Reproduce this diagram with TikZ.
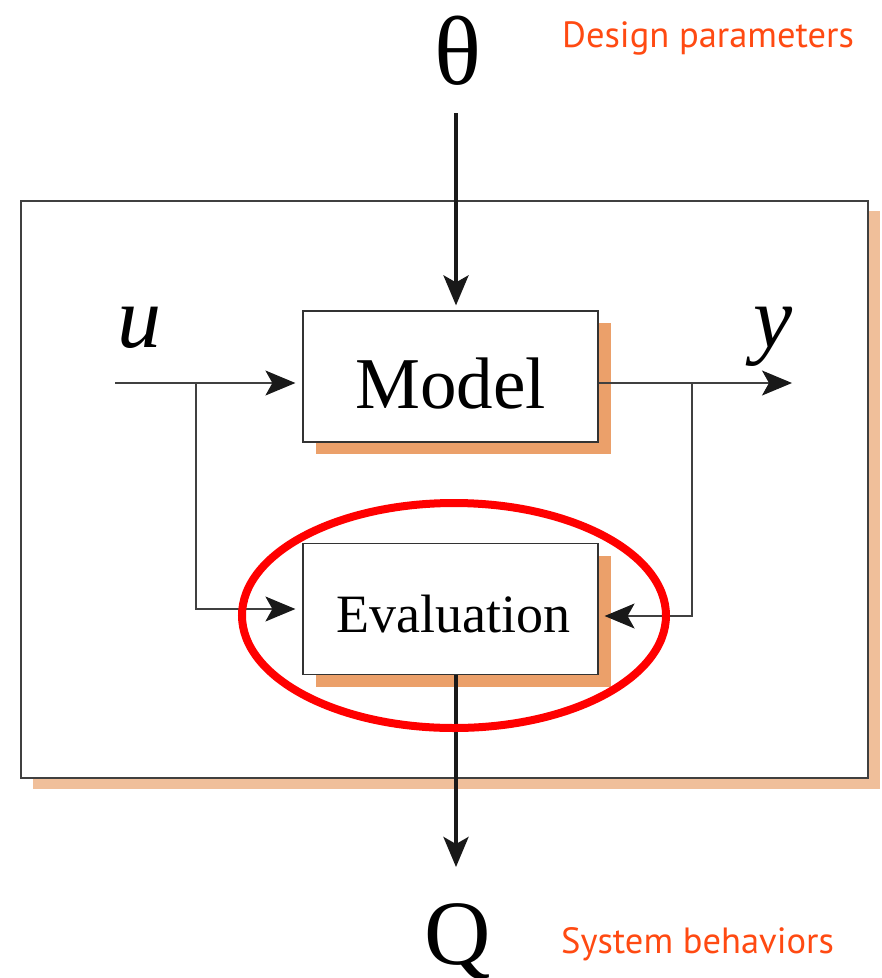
\documentclass[tikz,border=0pt]{standalone}
\usepackage{fontspec}
\setmainfont{Liberation Serif}
\newfontfamily\notefont{PT Sans}
\usetikzlibrary{arrows.meta,shadows}
\definecolor{boxshade}{HTML}{EBA06A}
\definecolor{frameshade}{HTML}{F0BF9A}
\definecolor{notecol}{HTML}{FF4A12}
\begin{document}
\begin{tikzpicture}[x=1pt, y=-1pt,
   every node/.style={inner sep=0pt},
   blockbox/.style={draw=black!80, line width=1.2pt, fill=white, minimum width=295pt,
     minimum height=131pt,
     general shadow={fill=boxshade, shadow xshift=13pt, shadow yshift=-12pt}},
   sigline/.style={draw=black!75, line width=1.3pt},
   tip/.style={-{Stealth[length=30pt,width=25pt,inset=7pt,color=black!90]}},
   note/.style={font=\notefont\fontsize{36.5}{40}\selectfont, text=notecol, anchor=base west}]
\useasboundingbox (0,0) rectangle (882,978);
% outer frame
\fill[frameshade] (33,211) rectangle (880,789);
\draw[draw=black!75, line width=1.2pt, fill=white] (21,201) rectangle (868,778);
% blocks
\node[blockbox, font=\fontsize{73}{80}\selectfont] (model) at (450.5,376.5)
  {\raisebox{-31.5pt}[0pt][0pt]{Model}};
\node[blockbox, font=\fontsize{54}{60}\selectfont] (eval) at (450.5,609)
  {\raisebox{-23pt}[0pt][0pt]{\hspace{6pt}Evaluation}};
% labels
\node[anchor=base, font=\fontsize{98}{100}\selectfont] (theta) at (458,84) {θ};
\node[anchor=base, font=\fontsize{92}{100}\selectfont] (qout) at (458,964) {Q};
\node[anchor=base, font=\itshape\fontsize{88}{90}\selectfont] (ulab) at (139,347) {u};
\node[anchor=base, font=\itshape\fontsize{88}{90}\selectfont] (ylab) at (773,347) {y};
\node[note] (dpar) at (562,47) {Design parameters};
\node[note] (sbeh) at (561,953) {System behaviors};
% signal points
\coordinate (uin) at (115,383);
\coordinate (ubr) at (196,383);
\coordinate (yout) at (792,383);
\coordinate (ybr) at (692,383);
\coordinate (thtop) at (456,113);
\coordinate (qend) at (456,867);
% connections
\draw[sigline, tip, shorten >=7pt] (uin) -- (uin -| model.west);
\draw[sigline, tip, shorten >=7pt] (ubr) |- (eval.west);
\draw[sigline, tip] (model.east |- yout) -- (yout);
\draw[sigline, tip, shorten >=6pt] (ybr) |- (eval.east |- 0,616);
\draw[line width=4pt, black!90, tip, shorten >=5pt] (thtop) -- (thtop |- model.north);
\draw[line width=4pt, black!90, tip] (eval.south -| qend) -- (qend);
% highlight
\draw[red, line width=8pt] (454,615.5) ellipse (212 and 112.5);
\end{tikzpicture}
\end{document}
